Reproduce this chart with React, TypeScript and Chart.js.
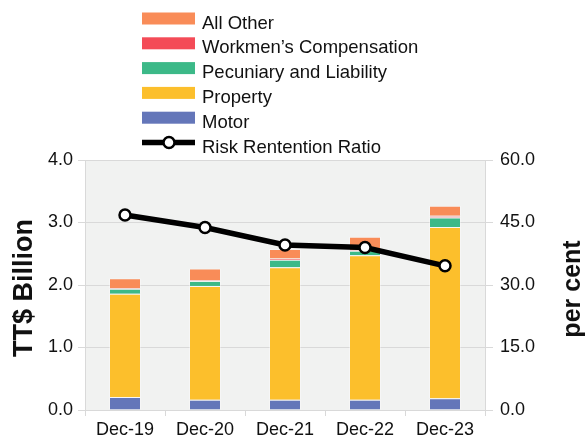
import { useEffect, useRef } from "react";
import { Chart, registerables } from "chart.js";

Chart.register(...registerables);

const categories = ["Dec-19", "Dec-20", "Dec-21", "Dec-22", "Dec-23"];
const motor = [0.21, 0.165, 0.165, 0.165, 0.19];
const property = [1.65, 1.82, 2.12, 2.31, 2.74];
const pecuniary = [0.08, 0.08, 0.12, 0.074, 0.15];
const workmens = [0.01, 0.01, 0.02, 0.01, 0.027];
const allOther = [0.16, 0.19, 0.15, 0.214, 0.16];
const retentionRatio = [46.8, 43.8, 39.6, 39.0, 34.6];

const leftTicks = [0, 1, 2, 3, 4];
const rightTicks = [0, 15, 30, 45, 60];

const COLORS = {
  allOther: "#f98c58",
  workmens: "#f44b57",
  pecuniary: "#3cb988",
  property: "#fcbf2c",
  motor: "#6476b9",
};

const legendItems = [
  { label: "All Other", color: COLORS.allOther, type: "box" },
  { label: "Workmen\u2019s Compensation", color: COLORS.workmens, type: "box" },
  { label: "Pecuniary and Liability", color: COLORS.pecuniary, type: "box" },
  { label: "Property", color: COLORS.property, type: "box" },
  { label: "Motor", color: COLORS.motor, type: "box" },
  { label: "Risk Rentention Ratio", color: "#000", type: "line" },
];

const FONT = "'Liberation Sans', Arial, sans-serif";

const customPlugin = {
  id: "custom",
  beforeDraw(chart: any) {
    const { ctx, chartArea } = chart;
    ctx.save();
    ctx.fillStyle = "#f1f2f1";
    ctx.fillRect(chartArea.left, chartArea.top, chartArea.right - chartArea.left, chartArea.bottom - chartArea.top);
    ctx.restore();
  },
  afterDraw(chart: any) {
    const { ctx } = chart;
    ctx.save();
    // legend
    legendItems.forEach((it, i) => {
      const cy = 18.5 + i * 24.8;
      if (it.type === "box") {
        ctx.fillStyle = it.color;
        ctx.fillRect(142, cy - 6, 53, 12);
      } else {
        ctx.strokeStyle = "#000";
        ctx.lineWidth = 5.5;
        ctx.beginPath();
        ctx.moveTo(142, cy);
        ctx.lineTo(195, cy);
        ctx.stroke();
        ctx.beginPath();
        ctx.arc(169, cy, 5.5, 0, Math.PI * 2);
        ctx.fillStyle = "#fff";
        ctx.fill();
        ctx.lineWidth = 2.5;
        ctx.stroke();
      }
      ctx.fillStyle = "#111";
      ctx.font = `18.5px ${FONT}`;
      ctx.textAlign = "left";
      ctx.textBaseline = "alphabetic";
      ctx.fillText(it.label, 202, cy + 10);
    });
    // axis titles
    ctx.fillStyle = "#111";
    ctx.textAlign = "center";
    ctx.textBaseline = "alphabetic";
    ctx.save();
    ctx.translate(31.5, 288);
    ctx.rotate(-Math.PI / 2);
    ctx.font = `bold 27px ${FONT}`;
    ctx.fillText("TT$ Billion", 0, 0);
    ctx.restore();
    ctx.save();
    ctx.translate(580, 289);
    ctx.rotate(-Math.PI / 2);
    ctx.font = `bold 25px ${FONT}`;
    ctx.fillText("per cent", 0, 0);
    ctx.restore();
    ctx.restore();
  },
};

export default function App() {
  const ref = useRef<HTMLCanvasElement | null>(null);
  useEffect(() => {
    document.body.style.margin = "0";
    if (!ref.current) return;
    const barDs = (label: string, data: number[], color: string) => ({
      type: "bar" as const,
      label,
      data,
      backgroundColor: color,
      borderColor: "rgba(255,255,255,0.35)",
      borderWidth: 1,
      yAxisID: "y",
      stack: "s",
      categoryPercentage: 1,
      barPercentage: 0.4,
      order: 2,
    });
    const chart = new Chart(ref.current, {
      type: "bar",
      data: {
        labels: categories,
        datasets: [
          {
            type: "line",
            label: "Risk Rentention Ratio",
            data: retentionRatio,
            yAxisID: "y1",
            borderColor: "#000",
            borderWidth: 5.5,
            pointRadius: 5.5,
            pointBackgroundColor: "#fff",
            pointBorderColor: "#000",
            pointBorderWidth: 2.5,
            tension: 0,
            order: 1,
          } as any,
          barDs("Motor", motor, COLORS.motor),
          barDs("Property", property, COLORS.property),
          barDs("Pecuniary and Liability", pecuniary, COLORS.pecuniary),
          barDs("Workmen\u2019s Compensation", workmens, COLORS.workmens),
          barDs("All Other", allOther, COLORS.allOther),
        ],
      },
      options: {
        animation: false,
        responsive: true,
        maintainAspectRatio: false,
        layout: { padding: { top: 160, left: 0, right: 0, bottom: 0 } },
        plugins: { legend: { display: false }, tooltip: { enabled: false } },
        scales: {
          x: {
            stacked: true,
            grid: { drawOnChartArea: false, drawTicks: true, tickLength: 6, color: "#d9d9d9", offset: true },
            border: { color: "#d9d9d9", width: 1 },
            ticks: { color: "#111", font: { family: FONT, size: 18 }, padding: 3, maxRotation: 0 },
            afterFit: (s: any) => {
              s.height = 29;
            },
          },
          y: {
            stacked: true,
            position: "left",
            min: 0,
            max: 4,
            afterBuildTicks: (s: any) => {
              s.ticks = leftTicks.map((v) => ({ value: v }));
            },
            grid: { color: "#d9d9d9", tickLength: 7, drawTicks: true },
            border: { color: "#d9d9d9", width: 1 },
            ticks: {
              color: "#111",
              font: { family: FONT, size: 18 },
              padding: 5,
              callback: (v: any) => Number(v).toFixed(1),
            },
            afterFit: (s: any) => {
              s.width = 85;
            },
          },
          y1: {
            position: "right",
            min: 0,
            max: 60,
            afterBuildTicks: (s: any) => {
              s.ticks = rightTicks.map((v) => ({ value: v }));
            },
            grid: { drawOnChartArea: false, color: "#d9d9d9", tickLength: 8, drawTicks: true },
            border: { color: "#d9d9d9", width: 1 },
            ticks: {
              color: "#111",
              font: { family: FONT, size: 18 },
              padding: 7,
              callback: (v: any) => Number(v).toFixed(1),
            },
            afterFit: (s: any) => {
              s.width = 102;
            },
          },
        },
      },
      plugins: [customPlugin],
    });
    return () => chart.destroy();
  }, []);
  return (
    <div style={{ position: "relative", width: "587px", height: "439px" }}>
      <canvas ref={ref} />
    </div>
  );
}
